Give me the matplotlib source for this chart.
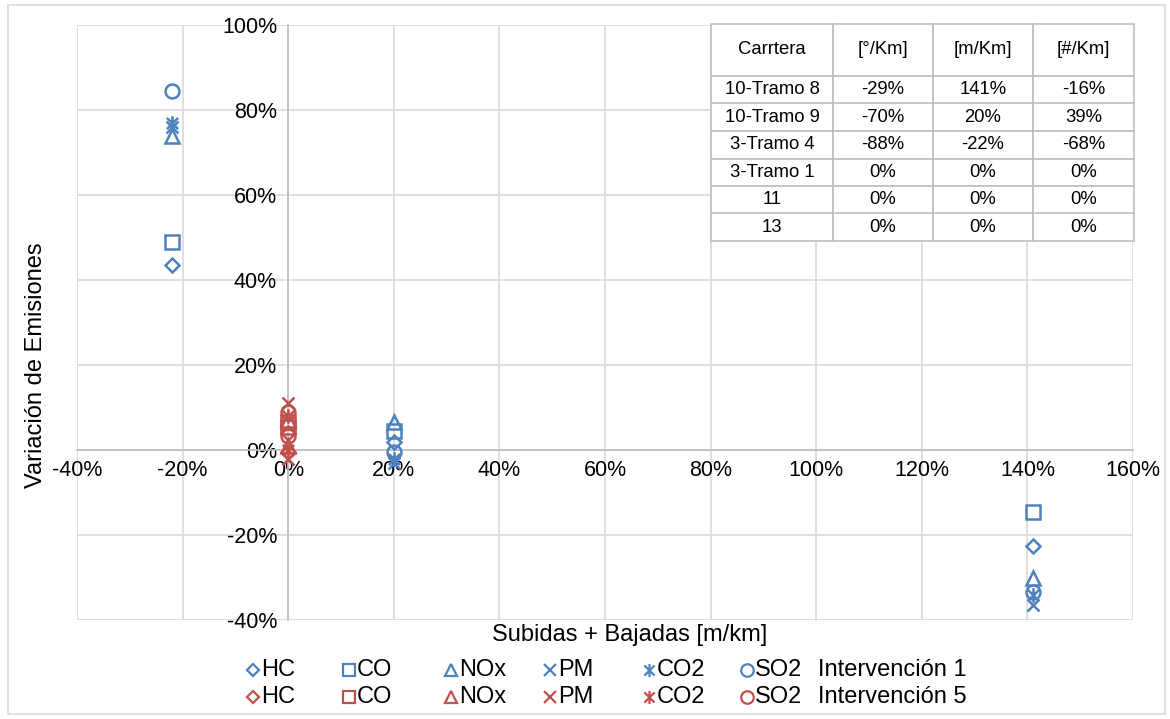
import matplotlib
matplotlib.use("Agg")
import matplotlib.pyplot as plt
from matplotlib.path import Path
from matplotlib.lines import Line2D
from matplotlib.patches import Rectangle

plt.rcParams['font.family'] = ['Liberation Sans', 'DejaVu Sans']

# ---- data (percent) ----
x_int1 = [141, 20, -22]
hc_1 = [-22.5, 2.0, 43.5]
co_1 = [-14.5, 4.5, 49.0]
nox_1 = [-30.0, 6.5, 74.0]
pm_1 = [-36.5, -3.0, 76.0]
co2_1 = [-34.0, -2.0, 77.0]
so2_1 = [-33.5, -0.5, 84.5]

x_int5 = [0, 0]
hc_5 = [-0.5, 4.0]
co_5 = [5.5, 6.5]
nox_5 = [7.0, 1.0]
pm_5 = [11.0, -2.0]
co2_5 = [8.0, 0.0]
so2_5 = [9.0, 3.2]

pollutants = ["HC", "CO", "NOx", "PM", "CO2", "SO2"]
series_labels = ["Intervención 1", "Intervención 5"]

x_ticks = [-40, -20, 0, 20, 40, 60, 80, 100, 120, 140, 160]
y_ticks = [-40, -20, 0, 20, 40, 60, 80, 100]

table_header = ["Carrtera", "[°/Km]", "[m/Km]", "[#/Km]"]
table_rows = [
    ["10-Tramo 8", "-29%", "141%", "-16%"],
    ["10-Tramo 9", "-70%", "20%", "39%"],
    ["3-Tramo 4", "-88%", "-22%", "-68%"],
    ["3-Tramo 1", "0%", "0%", "0%"],
    ["11", "0%", "0%", "0%"],
    ["13", "0%", "0%", "0%"],
]

BLUE = "#4F81BD"
RED = "#C0504D"

star_path = Path(
    [(-1, -1), (1, 1), (-1, 1), (1, -1), (0, -1.3), (0, 1.3)],
    [Path.MOVETO, Path.LINETO, Path.MOVETO, Path.LINETO, Path.MOVETO, Path.LINETO],
)
markers = {"HC": ("D", 7), "CO": ("s", 9.5), "NOx": ("^", 10),
           "PM": ("x", 9), "CO2": (star_path, 10.5), "SO2": ("o", 10)}

W, H = 1170, 719
fig = plt.figure(figsize=(W / 100, H / 100), dpi=100)
ax = fig.add_axes([77 / W, 1 - 620 / H, (1133 - 77) / W, (620 - 25) / H])

ax.set_xlim(-40, 160)
ax.set_ylim(-40, 100)
ax.set_xticks(x_ticks)
ax.set_yticks(y_ticks)
ax.set_xticklabels([f"{v}%" for v in x_ticks])
ax.set_yticklabels([f"{v}%" for v in y_ticks])
ax.grid(True, color="#d9d9d9", linewidth=1.2)
ax.set_axisbelow(True)
ax.tick_params(length=0, labelsize=15.5)
ax.tick_params(axis='y', pad=8)
ax.tick_params(axis='x', pad=7)
ax.spines['left'].set_position(('data', 0))
ax.spines['bottom'].set_position(('data', 0))
for s in ['left', 'bottom']:
    ax.spines[s].set_color("#bfbfbf")
    ax.spines[s].set_linewidth(1.2)
for s in ['top', 'right']:
    ax.spines[s].set_visible(False)

data1 = [hc_1, co_1, nox_1, pm_1, co2_1, so2_1]
data5 = [hc_5, co_5, nox_5, pm_5, co2_5, so2_5]
for name, vals in zip(pollutants, data1):
    m, ms = markers[name]
    ax.plot(x_int1, vals, linestyle="none", marker=m, markersize=ms,
            markerfacecolor="none", markeredgecolor=BLUE, markeredgewidth=1.8,
            zorder=3, clip_on=False)
for name, vals in zip(pollutants, data5):
    m, ms = markers[name]
    ax.plot(x_int5, vals, linestyle="none", marker=m, markersize=ms,
            markerfacecolor="none", markeredgecolor=RED, markeredgewidth=1.8,
            zorder=4, clip_on=False)

# table
tbl = ax.table(cellText=table_rows, colLabels=table_header, cellLoc="center",
               bbox=[(711 - 77) / 1056, (620 - 241) / 595, (1134 - 711) / 1056, (241 - 24) / 595],
               zorder=10)
tbl.auto_set_font_size(False)
col_w = [122, 100, 100, 101]
total_h = 241 - 24
header_h = 52
row_h = (total_h - header_h) / len(table_rows)
for (r, c), cell in tbl.get_celld().items():
    cell.set_edgecolor("#bfbfbf")
    cell.set_linewidth(1.2)
    cell.set_facecolor("white")
    cell.set_width(col_w[c] / 1056)
    cell.set_height((header_h if r == 0 else row_h) / 595)
    cell.get_text().set_fontsize(13.3)

# axis titles
fig.text(630 / W, 1 - 635 / H, "Subidas + Bajadas [m/km]", ha="center", va="center", fontsize=17)
fig.text(36 / W, 1 - 365 / H, "Variación de Emisiones", ha="center", va="center",
         rotation=90, fontsize=17)

# legend (manual)
marker_x = [253, 349, 451, 550, 649, 747]
for row, (color, lab) in enumerate(zip([BLUE, RED], series_labels)):
    yy = 1 - (670 + 27 * row) / H
    for name, mx in zip(pollutants, marker_x):
        m, ms = markers[name]
        fig.add_artist(Line2D([mx / W], [yy], transform=fig.transFigure, linestyle="none",
                              marker=m, markersize=ms * 0.9, markerfacecolor="none",
                              markeredgecolor=color, markeredgewidth=1.6))
        fig.text((mx + 8) / W, yy, name, ha="left", va="center", fontsize=17)
    fig.text(818 / W, yy, lab, ha="left", va="center", fontsize=17)

fig.add_artist(Rectangle((8 / W, 1 - 714 / H), (1165 - 8) / W, (714 - 5) / H,
                         transform=fig.transFigure, fill=False, edgecolor="#d9d9d9", linewidth=1.2))

fig.savefig("out.png", dpi=100)
